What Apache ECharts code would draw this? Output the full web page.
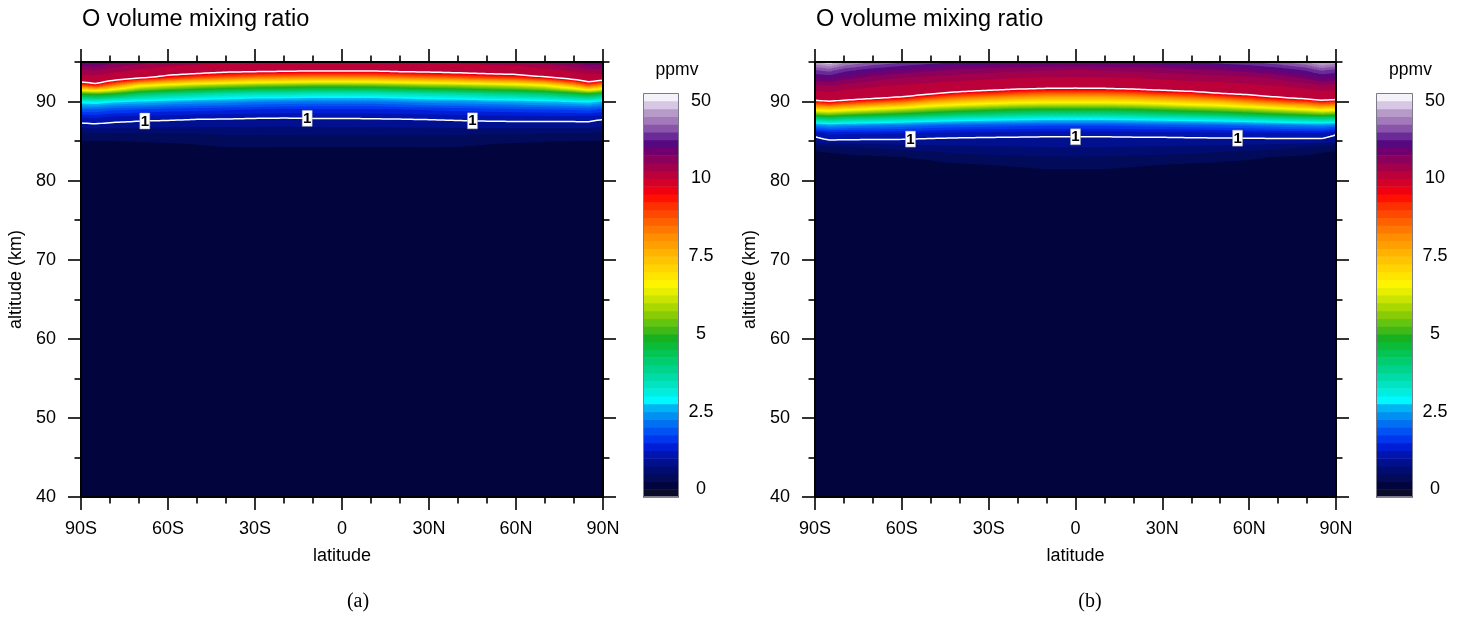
<!DOCTYPE html>
<html><head><meta charset="utf-8">
<script src="https://cdn.jsdelivr.net/npm/echarts@6/dist/echarts.min.js"></script>
<style>html,body{margin:0;padding:0;background:#fff}#c{width:1463px;height:617px}</style>
</head><body><div id="c"></div>
<script>
// ---------------- data ----------------
const latitudes = [-90,-85,-80,-70,-60,-50,-40,-30,-20,-10,0,10,20,30,40,50,60,70,80,85,90];
const altitudes = [40,80,81,82,83,84,85,86,87,88,89,90,91,92,93,94,95];
// O mixing ratio (ppmv), one profile per latitude, values at the altitudes above — panel (a)
const ratioA = [
  [0.02,0.06,0.08,0.10,0.13,0.17,0.24,0.48,0.90,1.25,1.95,3.0,5.0,8.6,11.5,18,27],
  [0.02,0.06,0.08,0.10,0.13,0.17,0.25,0.50,0.93,1.30,2.0,3.1,5.2,9.2,12.0,18.5,27],
  [0.02,0.06,0.08,0.10,0.13,0.17,0.25,0.50,0.90,1.20,1.85,2.9,5.0,8.3,11.0,16,24],
  [0.02,0.07,0.08,0.10,0.13,0.18,0.26,0.50,0.86,1.13,1.75,2.75,4.3,6.7,10.1,13.5,20],
  [0.02,0.07,0.09,0.11,0.14,0.19,0.27,0.50,0.84,1.10,1.65,2.6,4.0,6.2,9.3,11.4,17],
  [0.02,0.08,0.09,0.11,0.14,0.21,0.28,0.50,0.82,1.06,1.6,2.5,3.8,5.8,8.8,11.0,15.5],
  [0.02,0.08,0.10,0.12,0.15,0.22,0.34,0.55,0.81,1.05,1.55,2.4,3.6,5.6,8.5,10.6,14.5],
  [0.02,0.08,0.10,0.12,0.16,0.23,0.35,0.55,0.80,1.03,1.5,2.3,3.5,5.4,8.2,10.5,14],
  [0.02,0.08,0.10,0.12,0.16,0.22,0.35,0.55,0.80,1.02,1.45,2.25,3.5,5.3,8.1,10.4,13.5],
  [0.02,0.08,0.10,0.12,0.16,0.22,0.36,0.56,0.80,1.03,1.45,2.2,3.4,5.2,8.0,10.3,13],
  [0.02,0.08,0.10,0.12,0.16,0.22,0.36,0.56,0.80,1.03,1.45,2.2,3.4,5.2,8.0,10.3,13],
  [0.02,0.08,0.10,0.12,0.16,0.22,0.36,0.56,0.81,1.04,1.45,2.2,3.4,5.25,8.05,10.3,13],
  [0.02,0.08,0.10,0.12,0.16,0.22,0.35,0.56,0.82,1.05,1.5,2.3,3.5,5.4,8.2,10.5,13.5],
  [0.02,0.08,0.10,0.12,0.16,0.23,0.35,0.56,0.83,1.07,1.55,2.4,3.6,5.6,8.4,10.6,14],
  [0.02,0.08,0.10,0.12,0.15,0.22,0.34,0.56,0.85,1.10,1.6,2.45,3.7,5.7,8.6,10.8,14.5],
  [0.02,0.08,0.09,0.11,0.14,0.21,0.28,0.52,0.87,1.12,1.65,2.55,3.9,5.9,8.9,11.0,15.5],
  [0.02,0.07,0.09,0.11,0.14,0.19,0.27,0.52,0.88,1.13,1.7,2.6,4.0,6.1,9.1,11.2,16.5],
  [0.02,0.07,0.08,0.10,0.13,0.18,0.26,0.50,0.88,1.14,1.75,2.7,4.2,6.5,9.6,12.5,19],
  [0.02,0.06,0.08,0.10,0.13,0.17,0.25,0.50,0.88,1.14,1.8,2.85,4.6,7.6,10.6,15,23],
  [0.02,0.06,0.08,0.10,0.13,0.17,0.25,0.50,0.88,1.15,1.85,2.9,4.9,8.6,11.4,17,26],
  [0.02,0.06,0.08,0.10,0.13,0.17,0.24,0.46,0.78,1.08,1.7,2.7,4.5,7.8,11.0,17,25]
];
// panel (b)
const ratioB = [
  [0.02,0.10,0.12,0.15,0.19,0.27,0.85,1.12,2.3,4.3,6.9,9.5,12.5,17,26,34,45],
  [0.02,0.10,0.12,0.15,0.20,0.30,0.95,1.32,2.5,4.5,7.1,9.9,13,18,27,36,50],
  [0.02,0.10,0.12,0.16,0.21,0.33,0.94,1.30,2.4,4.3,6.8,9.5,12.3,16,24,32,43],
  [0.02,0.10,0.13,0.17,0.22,0.45,0.93,1.28,2.3,4.1,6.4,9.0,11.6,14.5,20,28,38],
  [0.02,0.11,0.14,0.18,0.25,0.55,0.93,1.25,2.2,3.9,6.0,8.6,10.9,13.5,18,25,35],
  [0.02,0.12,0.15,0.20,0.29,0.60,0.90,1.20,2.05,3.7,5.6,7.8,10.1,12.5,16.5,23,32],
  [0.02,0.13,0.17,0.22,0.40,0.65,0.89,1.16,1.95,3.5,5.3,7.4,9.4,11.8,15.5,21,30],
  [0.02,0.14,0.19,0.25,0.44,0.68,0.88,1.14,1.9,3.4,5.1,7.1,9.1,11.2,14.8,20,29],
  [0.02,0.15,0.20,0.27,0.46,0.69,0.88,1.12,1.85,3.3,4.9,6.9,8.8,10.9,14,19,28],
  [0.02,0.16,0.22,0.29,0.49,0.71,0.88,1.10,1.8,3.2,4.8,6.8,8.6,10.7,13.7,18.5,28],
  [0.02,0.16,0.22,0.29,0.50,0.72,0.88,1.10,1.8,3.2,4.8,6.8,8.6,10.6,13.5,18,27],
  [0.02,0.16,0.22,0.29,0.49,0.71,0.88,1.10,1.8,3.2,4.8,6.8,8.6,10.7,13.7,18.5,28],
  [0.02,0.15,0.20,0.27,0.46,0.69,0.88,1.12,1.85,3.3,4.9,6.9,8.75,10.9,14,19,28],
  [0.02,0.14,0.19,0.25,0.44,0.68,0.88,1.13,1.9,3.4,5.1,7.1,9.1,11.2,14.8,20,29],
  [0.02,0.13,0.17,0.22,0.40,0.65,0.89,1.15,1.95,3.5,5.3,7.4,9.3,11.7,15.5,21,30],
  [0.02,0.12,0.16,0.21,0.32,0.62,0.89,1.17,2.0,3.6,5.5,7.6,9.9,12.2,16,22,32],
  [0.02,0.11,0.15,0.20,0.28,0.58,0.90,1.18,2.1,3.8,5.8,8.2,10.3,13,17,24,34],
  [0.02,0.10,0.14,0.18,0.24,0.52,0.90,1.20,2.2,4.0,6.2,8.7,11.0,14,19,27,37],
  [0.02,0.10,0.12,0.16,0.22,0.36,0.90,1.22,2.3,4.2,6.6,9.1,11.8,15.5,23,31,42],
  [0.02,0.10,0.12,0.15,0.20,0.30,0.90,1.22,2.35,4.3,6.9,9.5,12.3,17,26,35,48],
  [0.02,0.10,0.12,0.15,0.19,0.27,0.80,1.05,2.2,4.2,6.7,9.3,12.0,16.5,25,33,44]
];
// contour levels (box boundaries of the colour bar)
const levels = [0,0.25,0.5,0.75,1,1.25,1.5,1.75,2,2.25,2.5,2.75,3,3.25,3.5,3.75,4,4.25,4.5,4.75,
  5,5.25,5.5,5.75,6,6.25,6.5,6.75,7,7.25,7.5,7.75,8,8.25,8.5,8.75,9,9.25,9.5,9.75,10,
  14,18,22,26,30,34,38,42,46,50];
const levelColors = [
  '#0a0a2a','#02043e','#020a5a','#000c72','#00108e','#0014b0','#001ed6','#0036ee','#0052f4','#0070f2',
  '#0090f2','#00b4f4','#00f8ff','#00eee0','#00e4c4','#00dca8','#00d48c','#00cc70','#04c454','#0cbc38',
  '#16b020','#40b818','#64c410','#88cc08','#a8d800','#c8e400','#e8ee00','#fff400','#ffe400','#ffd400',
  '#ffc400','#ffb200','#ffa000','#ff8e00','#ff7800','#ff6000','#ff4800','#ff3000','#ff1000','#f00010',
  '#d40028','#bc003a','#a2004c','#8a005c','#700070','#55087f','#6a2a98','#8a54aa','#a27ab9','#b89ac8',
  '#d6c8e4','#f4f2f8'];
const colorbarLabelIdx = [1,11,21,31,41,51];
const colorbarLabels = ['0','2.5','5','7.5','10','50'];
const xMajorTicks = [-90,-60,-30,0,30,60,90];
const xTickLabels = ['90S','60S','30S','0','30N','60N','90N'];
const xMinorTicks = [-80,-70,-50,-40,-20,-10,10,20,40,50,70,80];
const yMajorTicks = [40,50,60,70,80,90];
const yTickLabels = ['40','50','60','70','80','90'];
const yMinorTicks = [45,55,65,75,85,95];
const contourLevels = [1,10];
const labelLatsA = [-68,-12,45];
const labelLatsB = [-57,0,56];

// ---------------- helpers ----------------
const FONT = 'Liberation Sans';
const ALT_TOP = 95;
function colorIndex(v){ let k=0; while(k<levels.length && v>=levels[k]) k++; return k; }
function columnValues(profiles, lat){
  let i = 0;
  while (i < latitudes.length-2 && lat > latitudes[i+1]) i++;
  const t = (lat - latitudes[i])/(latitudes[i+1]-latitudes[i]);
  return profiles[i].map((v,j)=> v + t*(profiles[i+1][j]-v));
}
function crossing(vals, L){
  if (vals[0] >= L) return altitudes[0];
  for (let j=0;j<vals.length-1;j++){
    if (vals[j] < L && vals[j+1] >= L)
      return altitudes[j] + (L-vals[j])/(vals[j+1]-vals[j])*(altitudes[j+1]-altitudes[j]);
  }
  return null;
}
function fieldRender(profiles){
  return function(params, api){
    const i = params.dataIndex;
    const lat0 = latitudes[i], lat1 = latitudes[i+1];
    const pTop0 = api.coord([lat0, ALT_TOP]);
    const pTop1 = api.coord([lat1, ALT_TOP]);
    const yBot = api.coord([lat0, altitudes[0]])[1];
    const yTop = pTop0[1];
    const px0 = pTop0[0], px1 = pTop1[0];
    const n = Math.max(1, Math.round((px1-px0)/2.5));
    const children = [];
    for (let s=0;s<n;s++){
      const xa = Math.round(px0 + (px1-px0)*s/n), xb = Math.round(px0+(px1-px0)*(s+1)/n);
      if (xb <= xa) continue;
      const lat = lat0 + (lat1-lat0)*(s+0.5)/n;
      const vals = columnValues(profiles, lat);
      const k0 = colorIndex(vals[0]);
      children.push({type:'rect', shape:{x:xa,y:yTop,width:xb-xa,height:yBot-yTop}, style:{fill:levelColors[k0]}});
      for (let m=k0; m<levels.length; m++){
        const z = crossing(vals, levels[m]);
        if (z === null) break;
        const yz = api.coord([lat, z])[1];
        children.push({type:'rect', shape:{x:xa,y:yTop,width:xb-xa,height:yz-yTop}, style:{fill:levelColors[m+1]}});
      }
    }
    return {type:'group', children};
  };
}
function contourRender(profiles){
  return function(params, api){
    const L = contourLevels[params.dataIndex];
    const pts = [];
    for (let lat=-90; lat<=90; lat+=1){
      const z = crossing(columnValues(profiles, lat), L);
      if (z !== null) pts.push(api.coord([lat, z]));
    }
    return {type:'polyline', shape:{points:pts}, style:{stroke:'#ffffff', lineWidth:1.5, fill:null}};
  };
}
function labelRender(profiles, lats){
  return function(params, api){
    const lat = lats[params.dataIndex];
    const z = crossing(columnValues(profiles, lat), contourLevels[0]);
    const p = api.coord([lat, z]);
    return {type:'group', children:[
      {type:'rect', shape:{x:p[0]-5, y:p[1]-8, width:10, height:16}, style:{fill:'#ffffff', stroke:'#999', lineWidth:0.5}},
      {type:'text', x:p[0], y:p[1]+0.5, style:{text:String(contourLevels[0]), font:'bold 15px "'+FONT+'"', fill:'#000', align:'center', verticalAlign:'middle', textAlign:'center', textVerticalAlign:'middle'}}
    ]};
  };
}

// ---------------- layout ----------------
const panels = [
  {profiles:ratioA, labelLats:labelLatsA, left:81,  width:522, cbLeft:643,  cbWidth:36, tag:'(a)', tagX:358},
  {profiles:ratioB, labelLats:labelLatsB, left:815, width:521, cbLeft:1376, cbWidth:37, tag:'(b)', tagX:1090}
];
const PLOT_TOP = 62, PLOT_H = 435, CB_TOP = 93, CB_H = 404;
const FS = 18;

const grids = [], xAxes = [], yAxes = [], series = [], graphics = [];
const lineStyle = {color:'#000', width:2};
const tickStyle = {color:'#000', width:1.6};
panels.forEach((P, p) => {
  grids[p] = {left:P.left, top:PLOT_TOP, width:P.width, height:PLOT_H, containLabel:false, outerBoundsMode:'none'};
  grids[2+p] = {left:P.cbLeft, top:CB_TOP, width:P.cbWidth, height:CB_H, containLabel:false, outerBoundsMode:'none'};
  const xb = {type:'value', gridIndex:p, min:-90, max:90, z:10, splitLine:{show:false}};
  xAxes[4*p] = Object.assign({}, xb, {position:'bottom',
    axisLine:{show:true, onZero:false, lineStyle},
    axisTick:{show:true, customValues:xMajorTicks, length:13, lineStyle:tickStyle},
    axisLabel:{show:true, customValues:xMajorTicks, formatter:v=>xTickLabels[xMajorTicks.indexOf(v)], margin:23, fontSize:FS, color:'#000', fontFamily:FONT},
    name:'latitude', nameLocation:'middle', nameGap:50, nameTextStyle:{fontSize:FS, color:'#000', fontFamily:FONT}});
  xAxes[4*p+1] = Object.assign({}, xb, {position:'bottom', axisLine:{show:false, onZero:false},
    axisTick:{show:true, customValues:xMinorTicks, length:6.5, lineStyle:tickStyle}, axisLabel:{show:false}});
  xAxes[4*p+2] = Object.assign({}, xb, {position:'top', axisLine:{show:true, onZero:false, lineStyle},
    axisTick:{show:true, customValues:xMajorTicks, length:13, lineStyle:tickStyle}, axisLabel:{show:false}});
  xAxes[4*p+3] = Object.assign({}, xb, {position:'top', axisLine:{show:false, onZero:false},
    axisTick:{show:true, customValues:xMinorTicks, length:6.5, lineStyle:tickStyle}, axisLabel:{show:false}});
  const yb = {type:'value', gridIndex:p, min:40, max:95, z:10, splitLine:{show:false}};
  yAxes[4*p] = Object.assign({}, yb, {position:'left',
    axisLine:{show:true, onZero:false, lineStyle},
    axisTick:{show:true, customValues:yMajorTicks, length:13, lineStyle:tickStyle},
    axisLabel:{show:true, customValues:yMajorTicks, formatter:v=>yTickLabels[yMajorTicks.indexOf(v)], margin:25, fontSize:FS, color:'#000', fontFamily:FONT},
    name:'altitude (km)', nameLocation:'middle', nameGap:56, nameTextStyle:{fontSize:FS, color:'#000', fontFamily:FONT}});
  yAxes[4*p+1] = Object.assign({}, yb, {position:'left', axisLine:{show:false, onZero:false},
    axisTick:{show:true, customValues:yMinorTicks, length:6.5, lineStyle:tickStyle}, axisLabel:{show:false}});
  yAxes[4*p+2] = Object.assign({}, yb, {position:'right', axisLine:{show:true, onZero:false, lineStyle},
    axisTick:{show:true, customValues:yMajorTicks, length:13, lineStyle:tickStyle}, axisLabel:{show:false}});
  yAxes[4*p+3] = Object.assign({}, yb, {position:'right', axisLine:{show:false, onZero:false},
    axisTick:{show:true, customValues:yMinorTicks, length:6.5, lineStyle:tickStyle}, axisLabel:{show:false}});
  // colour bar axes
  xAxes[8+p] = {type:'value', gridIndex:2+p, min:0, max:1, show:false};
  yAxes[8+p] = {type:'value', gridIndex:2+p, min:0, max:levelColors.length, position:'right',
    axisLine:{show:false, onZero:false}, axisTick:{show:false}, splitLine:{show:false},
    axisLabel:{show:true, customValues:colorbarLabelIdx, formatter:v=>colorbarLabels[colorbarLabelIdx.indexOf(v)], margin:22, align:'center', fontSize:FS, color:'#000', fontFamily:FONT}};

  series.push({type:'custom', xAxisIndex:4*p, yAxisIndex:4*p, silent:true, z:1,
    data: latitudes.slice(0,-1).map((l)=>[l, ALT_TOP]), renderItem: fieldRender(P.profiles)});
  series.push({type:'custom', xAxisIndex:4*p, yAxisIndex:4*p, silent:true, z:3,
    data: contourLevels.map(L=>[0, L]), renderItem: contourRender(P.profiles)});
  series.push({type:'custom', xAxisIndex:4*p, yAxisIndex:4*p, silent:true, z:4,
    data: P.labelLats.map(l=>[l, 90]), renderItem: labelRender(P.profiles, P.labelLats)});
  series.push({type:'custom', xAxisIndex:8+p, yAxisIndex:8+p, silent:true, z:2,
    data: levelColors.map((c,k)=>[0,k]),
    renderItem: function(params, api){
      const k = params.dataIndex;
      const a = api.coord([0,k]), b = api.coord([1,k+1]);
      const kids = [{type:'rect', shape:{x:a[0], y:b[1], width:b[0]-a[0], height:a[1]-b[1]+0.6}, style:{fill:levelColors[k]}}];
      if (k === levelColors.length-1){
        const c0 = api.coord([0,0]);
        kids.push({type:'rect', shape:{x:c0[0]+0.5, y:b[1]+0.5, width:b[0]-c0[0]-1, height:c0[1]-b[1]-1}, style:{fill:null, stroke:'#7a7a88', lineWidth:1}, z2:10});
      }
      return {type:'group', children:kids};
    }});

  graphics.push({type:'text', x:P.left+1, y:20, style:{text:'O volume mixing ratio', font:'23.5px "'+FONT+'"', fill:'#000', align:'left', verticalAlign:'middle', textAlign:'left', textVerticalAlign:'middle'}});
  graphics.push({type:'text', x:P.cbLeft + P.cbWidth/2 + 16, y:70, style:{text:'ppmv', font:'17.5px "'+FONT+'"', fill:'#000', align:'center', verticalAlign:'middle', textAlign:'center', textVerticalAlign:'middle'}});
  graphics.push({type:'text', x:P.tagX, y:602, style:{text:P.tag, font:'20px "Liberation Serif"', fill:'#000', align:'center', verticalAlign:'middle', textAlign:'center', textVerticalAlign:'middle'}});
});

const chart = echarts.init(document.getElementById('c'), null, {renderer:'canvas', width:1463, height:617});
chart.setOption({
  animation:false,
  backgroundColor:'#ffffff',
  textStyle:{fontFamily:FONT},
  grid:grids, xAxis:xAxes, yAxis:yAxes, series, graphic:graphics
});
</script></body></html>
